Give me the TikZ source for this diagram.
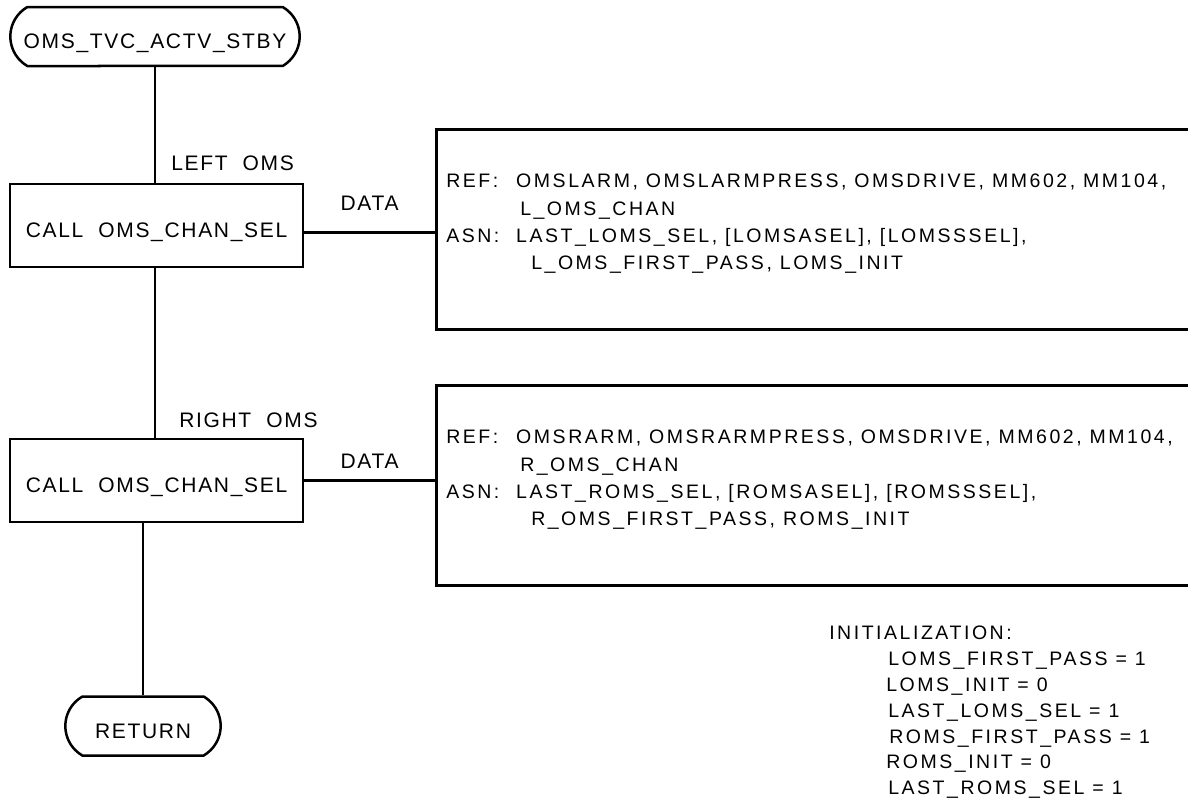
\documentclass[tikz,border=0pt]{standalone}
\usepackage{fontspec}
\setmainfont{Liberation Sans}
\newfontfamily\flowfont[LetterSpace=8]{Liberation Sans}
\newfontfamily\datafont[LetterSpace=13]{Liberation Sans}
\usetikzlibrary{positioning,shapes.misc}
\newcommand{\tagbox}[1]{\makebox[70pt][l]{#1}}

\begin{document}
\begin{tikzpicture}[
  x=1pt, y=-1pt,
  line width=2.5pt,
  lbl/.style={font=\flowfont\fontsize{21}{25}\selectfont, inner sep=0pt},
  term/.style={draw, rounded rectangle, rounded rectangle arc length=120, minimum height=59pt,
    font=\flowfont\fontsize{21}{25}\selectfont, text height=24pt, text depth=0pt},
  box/.style={draw, minimum width=293pt, minimum height=83pt,
    font=\flowfont\fontsize{21}{25}\selectfont, text height=24pt, text depth=0pt},
  dbox/.style={draw, anchor=north west, minimum width=900pt, minimum height=200pt},
  txt/.style={font=\datafont\fontsize{19.5}{27.3}\selectfont, align=left, anchor=north west, inner sep=0pt}
]
\useasboundingbox (0,0) rectangle (1188,811);

% flow column
\node[term, minimum width=296pt] (start) at (155,36.5) {OMS\_TVC\_ACTV\_STBY};
\node[box] (left) at (156.5,225.5) {CALL~~OMS\_CHAN\_SEL};
\node[box] (right) at (156.5,480.5) {CALL~~OMS\_CHAN\_SEL};
\node[term, minimum width=162pt] (ret) at (143,726) {RETURN};

\node[lbl, above right=10.5pt and 13.5pt of left.north] (lleft) {LEFT~~OMS};
\node[lbl, above right=8.5pt and 21.5pt of right.north] (lright) {RIGHT~~OMS};

\draw (start.south) -- (start.south |- left.north);
\draw (left.south -| start.south) -- (right.north -| start.south);
\draw (ret.north) -- (ret.north |- right.south);

% data boxes
\node[dbox] (dat1) at (435,128) {};
\node[dbox] (dat2) at (435,384) {};

\draw ([yshift=-7pt]left.east) -- ([yshift=-7pt]left.east -| dat1.west)
  node[lbl, midway, above=20.5pt] (ldata) {DATA};
\draw (right.east) -- (right.east -| dat2.west)
  node[lbl, midway, above=10.5pt] (rdata) {DATA};

\node[txt] (ref1) at (445,173) {\tagbox{REF:}OMSLARM, OMSLARMPRESS, OMSDRIVE, MM602, MM104,\\
  \hspace*{74pt}L\_OMS\_CHAN\\
  \tagbox{ASN:}LAST\_LOMS\_SEL, [LOMSASEL], [LOMSSSEL],\\
  \hspace*{85pt}L\_OMS\_FIRST\_PASS, LOMS\_INIT};
\node[txt] (ref2) at (445,429) {\tagbox{REF:}OMSRARM, OMSRARMPRESS, OMSDRIVE, MM602, MM104,\\
  \hspace*{74pt}R\_OMS\_CHAN\\
  \tagbox{ASN:}LAST\_ROMS\_SEL, [ROMSASEL], [ROMSSSEL],\\
  \hspace*{85pt}R\_OMS\_FIRST\_PASS, ROMS\_INIT};

% initialization
\node[txt, font=\datafont\fontsize{19.5}{25.8}\selectfont] (init) at (828,625) {INITIALIZATION:\\
  \hspace*{59pt}LOMS\_FIRST\_PASS = 1\\
  \hspace*{57pt}LOMS\_INIT = 0\\
  \hspace*{59pt}LAST\_LOMS\_SEL = 1\\
  \hspace*{60pt}ROMS\_FIRST\_PASS = 1\\
  \hspace*{57pt}ROMS\_INIT = 0\\
  \hspace*{59pt}LAST\_ROMS\_SEL = 1};
\end{tikzpicture}
\end{document}
